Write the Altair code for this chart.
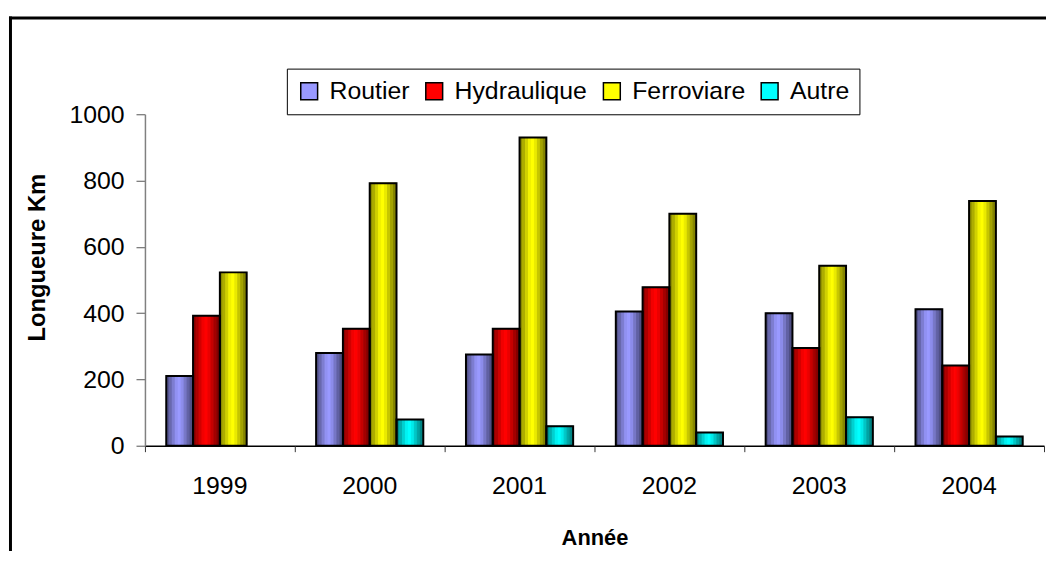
import altair as alt
import pandas as pd

years = ["1999", "2000", "2001", "2002", "2003", "2004"]
series = ["Routier", "Hydraulique", "Ferroviare", "Autre"]
routier = [210, 280, 275, 405, 400, 412]
hydraulique = [392, 353, 353, 478, 295, 242]
ferroviare = [523, 792, 930, 700, 543, 738]
autre = [None, 79, 59, 40, 86, 28]

base_colors = ["#9999FF", "#FF0000", "#FFFF00", "#00FFFF"]
# Excel-like horizontal shading across each bar (dark edges, bright centre)
shade = [0.55, 0.68, 0.82, 0.95, 1.0, 0.92, 0.78, 0.64, 0.52]
NS = len(shade)


def shaded(hex_color, f):
    r, g, b = (int(hex_color[i:i + 2], 16) for i in (1, 3, 5))
    return "#%02x%02x%02x" % (int(r * f), int(g * f), int(b * f))


rows, stripes = [], []
for si, (s, vals) in enumerate(zip(series, [routier, hydraulique, ferroviare, autre])):
    for yr, v in zip(years, vals):
        if v is None:
            continue
        rows.append({"year": yr, "series": s, "value": v})
        for j, f in enumerate(shade):
            stripes.append({"year": yr, "stripe": f"{s}_{j}", "value": v,
                            "fill": shaded(base_colors[si], f)})
df = pd.DataFrame(rows)
sdf = pd.DataFrame(stripes)
stripe_domain = [f"{s}_{j}" for s in series for j in range(NS)]

FONT = "Liberation Sans"
W, H = 906, 334
STEP = W / len(years)
GROUP = 108.0
off_range = [(STEP - GROUP) / 2, (STEP + GROUP) / 2]

x_scale = alt.Scale(domain=years, paddingInner=0, paddingOuter=0)
y_scale = alt.Scale(domain=[0, 1000])

# base layer: zero-height bars carrying the legend, label axis and y axis
base = alt.Chart(df).transform_calculate(zero="0").mark_bar(strokeWidth=0).encode(
    x=alt.X("year:N", scale=x_scale, sort=years,
            axis=alt.Axis(title="Année", orient="bottom", ticks=False, tickSize=0,
                          domain=True, domainColor="black", domainWidth=1.5,
                          labelAngle=0, labelFont=FONT, labelFontSize=25, labelColor="black",
                          labelPadding=28, titleFont=FONT, titleFontSize=22,
                          titleFontWeight="bold", titleColor="black", titlePadding=30)),
    y=alt.Y("zero:Q", scale=y_scale,
            axis=alt.Axis(title="Longueure Km", values=[0, 200, 400, 600, 800, 1000],
                          format="d",
                          grid=False, domainColor="#808080", domainWidth=1.5,
                          tickColor="#555555", tickSize=9, labelPadding=12,
                          labelFont=FONT, labelFontSize=25, labelColor="black",
                          titleFont=FONT, titleFontSize=24, titleFontWeight="bold",
                          titleColor="black", titleX=-108, titleY=144,
                          titleAlign="center", titleBaseline="middle", titleAngle=270)),
    color=alt.Color("series:N", scale=alt.Scale(domain=series, range=base_colors),
                    legend=alt.Legend(title=None, orient="none", legendX=143, legendY=-46,
                                      direction="horizontal", columns=4,
                                      labelFont=FONT, labelFontSize=25, labelColor="black",
                                      labelLimit=400, labelOffset=8, columnPadding=12,
                                      symbolType="square", symbolSize=289,
                                      symbolStrokeColor="black", symbolStrokeWidth=1.5,
                                      fillColor="white", strokeColor="black",
                                      padding=10)),
)

stripe_layer = alt.Chart(sdf).mark_bar(strokeWidth=1).encode(
    x=alt.X("year:N", scale=x_scale, sort=years, axis=None),
    xOffset=alt.XOffset("stripe:N", scale=alt.Scale(domain=stripe_domain, paddingInner=0,
                                                   paddingOuter=0, range=off_range)),
    y=alt.Y("value:Q", scale=y_scale, axis=None),
    color=alt.Color("fill:N", scale=None),
    stroke=alt.Stroke("fill:N", scale=None),
)

outline = alt.Chart(df).mark_bar(fillOpacity=0, fill="white", stroke="black", strokeWidth=2).encode(
    x=alt.X("year:N", scale=x_scale, sort=years,
            axis=alt.Axis(title=None, orient="bottom", labels=False, domain=False,
                          ticks=True, tickBand="extent", tickSize=6, tickColor="#333333")),
    xOffset=alt.XOffset("series:N", scale=alt.Scale(domain=series, paddingInner=0,
                                                   paddingOuter=0, range=off_range)),
    y=alt.Y("value:Q", scale=y_scale, axis=None),
)

frame_df = pd.DataFrame({"a": [0]})
frame_top = alt.Chart(frame_df).mark_rule(color="black", strokeWidth=3).encode(
    x=alt.value(-137), x2=alt.value(908), y=alt.value(-97))
frame_left = alt.Chart(frame_df).mark_rule(color="black", strokeWidth=3).encode(
    x=alt.value(-135.5), y=alt.value(-98.5), y2=alt.value(440))

chart = alt.layer(base, stripe_layer, outline, frame_top, frame_left).resolve_scale(
    xOffset="independent").resolve_axis(x="independent", y="independent").properties(
    width=W, height=H,
    autosize=alt.AutoSizeParams(type="none"),
    padding={"left": 138, "top": 105, "right": 2, "bottom": 104},
    background="white",
).configure_view(stroke=None)

chart.save("out.html", embed_options={"renderer": "svg", "actions": False})
